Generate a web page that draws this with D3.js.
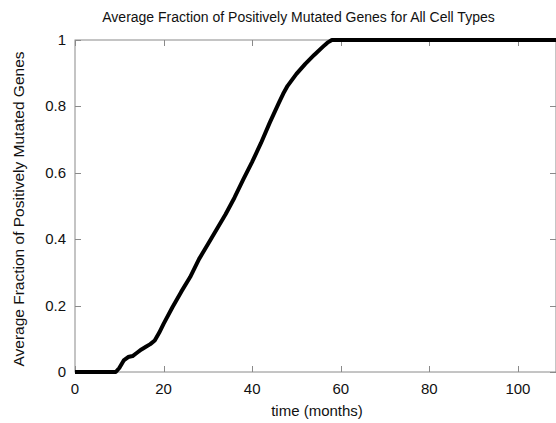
<!DOCTYPE html>
<html>
<head>
<meta charset="utf-8">
<script src="https://cdn.jsdelivr.net/npm/d3@7"></script>
<style>
  html, body { margin: 0; padding: 0; background: #fff; }
  svg { display: block; }
  text { font-family: "Liberation Sans", Arial, sans-serif; fill: #111; }
</style>
</head>
<body>
<script>
// Average fraction of positively mutated genes over time (months)
const months = [0, 9.2, 10, 11, 12, 13, 14, 15, 16, 17, 18, 19, 20, 22, 24, 26, 28, 30, 32, 34, 36,
  38, 40, 42, 44, 46, 47, 48, 50, 52, 54, 56, 57, 58, 108.6];
const fraction = [0, 0, 0.012, 0.035, 0.045, 0.048, 0.058, 0.068, 0.076, 0.084, 0.095, 0.118, 0.145,
  0.195, 0.242, 0.286, 0.34, 0.385, 0.43, 0.475, 0.525, 0.58, 0.633, 0.69, 0.752, 0.81, 0.838, 0.862,
  0.898, 0.928, 0.955, 0.98, 0.992, 1.0, 1.0];
const xTicks = [0, 20, 40, 60, 80, 100];
const yTicks = [0, 0.2, 0.4, 0.6, 0.8, 1];
const yTickLabels = ["0", "0.2", "0.4", "0.6", "0.8", "1"];

const W = 556, H = 423;
const margin = { left: 75, top: 40, right: 0, bottom: 51 };

const svg = d3.select("body").append("svg").attr("width", W).attr("height", H);

const x = d3.scaleLinear().domain([0, 108.6]).range([margin.left, W - margin.right]);
const y = d3.scaleLinear().domain([0, 1]).range([H - margin.bottom, margin.top]);

const axisColor = "#8a8a8a";
const tick = 6;

// frame
svg.append("rect")
  .attr("x", x.range()[0]).attr("y", y.range()[1])
  .attr("width", x.range()[1] - x.range()[0]).attr("height", y.range()[0] - y.range()[1])
  .attr("fill", "none").attr("stroke", axisColor).attr("stroke-width", 1);

// inward ticks on all four sides
const tg = svg.append("g").attr("stroke", axisColor).attr("stroke-width", 1);
xTicks.forEach(t => {
  const px = Math.round(x(t)) + 0.5;
  tg.append("line").attr("x1", px).attr("x2", px).attr("y1", y(0)).attr("y2", y(0) - tick);
  tg.append("line").attr("x1", px).attr("x2", px).attr("y1", y(1)).attr("y2", y(1) + tick);
});
yTicks.forEach(v => {
  const py = Math.round(y(v)) + 0.5;
  tg.append("line").attr("x1", x.range()[0]).attr("x2", x.range()[0] + tick).attr("y1", py).attr("y2", py);
  tg.append("line").attr("x1", x.range()[1]).attr("x2", x.range()[1] - tick).attr("y1", py).attr("y2", py);
});

// tick labels
svg.append("g").selectAll("text").data(xTicks).join("text")
  .attr("x", d => x(d)).attr("y", y(0) + 22)
  .attr("text-anchor", "middle").attr("font-size", 15)
  .text(d => d);
svg.append("g").selectAll("text").data(yTicks).join("text")
  .attr("x", margin.left - 9).attr("y", d => y(d) + 5)
  .attr("text-anchor", "end").attr("font-size", 15)
  .text((d, i) => yTickLabels[i]);

// data line
const line = d3.line().x((d, i) => x(months[i])).y(d => y(d));
svg.append("path")
  .datum(fraction)
  .attr("d", line)
  .attr("fill", "none")
  .attr("stroke", "#000")
  .attr("stroke-width", 4)
  .attr("stroke-linejoin", "round");

// titles
svg.append("text").attr("x", 298.5).attr("y", 22)
  .attr("text-anchor", "middle").attr("font-size", 14)
  .text("Average Fraction of Positively Mutated Genes for All Cell Types");
svg.append("text").attr("x", 317).attr("y", 416)
  .attr("text-anchor", "middle").attr("font-size", 15)
  .text("time (months)");
svg.append("text")
  .attr("transform", "translate(24,209) rotate(-90)")
  .attr("text-anchor", "middle").attr("font-size", 15.5)
  .text("Average Fraction of Positively Mutated Genes");
</script>
</body>
</html>
